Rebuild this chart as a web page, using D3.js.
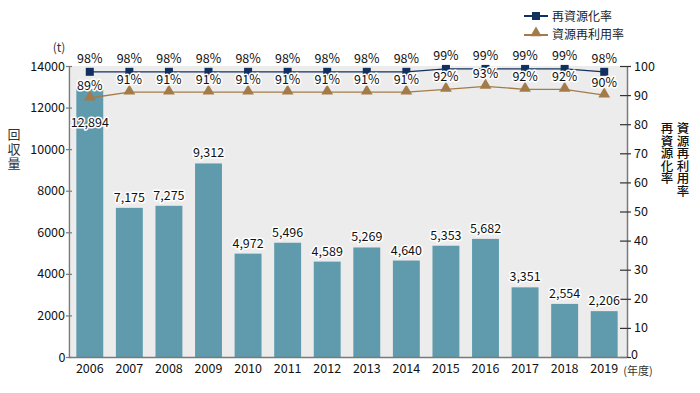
<!DOCTYPE html>
<html><head><meta charset="utf-8">
<script src="https://cdn.jsdelivr.net/npm/d3@7/dist/d3.min.js"></script>
<style>
body{margin:0;background:#fff;}
svg text{font-family:"Noto Sans CJK JP","Noto Sans",sans-serif;}
.vt{writing-mode:vertical-rl;text-orientation:upright;}
</style></head>
<body><svg id="c" width="700" height="393"></svg>
<script>
const years = ["2006","2007","2008","2009","2010","2011","2012","2013","2014","2015","2016","2017","2018","2019"];
const amounts = [12894,7175,7275,9312,4972,5496,4589,5269,4640,5353,5682,3351,2554,2206];
const recycleRate = [98,98,98,98,98,98,98,98,98,99,99,99,99,98];
const reuseRate = [89,91,91,91,91,91,91,91,91,92,93,92,92,90];
const leftTicks = [0,2000,4000,6000,8000,10000,12000,14000];
const rightTicks = [0,10,20,30,40,50,60,70,80,90,100];
const seriesNames = ["再資源化率","資源再利用率"];

const svg = d3.select("#c");
const plotTop = 66, plotBottom = 357, leftX = 69, rightX = 627;
const x = d3.scaleBand().domain(years).range([70, 624]).paddingInner(0.32).paddingOuter(0.16);
const yL = d3.scaleLinear().domain([0,14000]).range([plotBottom, plotTop]);
const yR = d3.scaleLinear().domain([0,100]).range([plotBottom, plotTop]);
const barColor = "#5f9bad", navy = "#12305f", brown = "#a37b48", axisCol = "#7a7a7a";

svg.append("rect").attr("x", 71).attr("y", plotTop).attr("width", rightX-71).attr("height", plotBottom-plotTop).attr("fill", "#ececec");

svg.selectAll(".bar").data(amounts).enter().append("rect")
  .attr("x", (d,i)=>x(years[i])).attr("width", x.bandwidth())
  .attr("y", d=>yL(d)).attr("height", d=>plotBottom-yL(d)).attr("fill", barColor);

// axes
const la = svg.append("g").attr("transform", `translate(${leftX},0)`)
  .call(d3.axisLeft(yL).tickValues(leftTicks).tickSize(0).tickFormat(d=>d===0?"":d));
la.select(".domain").attr("stroke", axisCol).attr("stroke-width", 1.5);
la.selectAll("text").attr("font-size", 12.5).attr("fill", "#111").attr("x", -4);
la.selectAll(".tick").append("line").attr("x1", -3).attr("x2", 3).attr("stroke", axisCol).attr("stroke-width", 1.2);
svg.append("text").attr("x", 62).attr("y", plotBottom+5).attr("text-anchor","middle").attr("font-size",12.5).attr("fill","#111").text("0");

const ra = svg.append("g").attr("transform", `translate(${rightX},0)`)
  .call(d3.axisRight(yR).tickValues(rightTicks).tickSize(0));
ra.select(".domain").attr("stroke", axisCol).attr("stroke-width", 1.5);
ra.selectAll("text").attr("font-size", 12.5).attr("fill", "#111").attr("x", 7);
ra.selectAll(".tick").append("line").attr("x1", -7).attr("x2", 4).attr("stroke", "#333").attr("stroke-width", 1.2);
ra.selectAll(".tick").filter(d=>d===0).select("text").attr("y", -3).attr("x",4);

svg.append("line").attr("x1", leftX).attr("x2", rightX).attr("y1", plotBottom+0.5).attr("y2", plotBottom+0.5).attr("stroke", axisCol).attr("stroke-width", 1.5);

svg.selectAll(".xl").data(years).enter().append("text")
  .attr("x", d=>x(d)+x.bandwidth()/2).attr("y", plotBottom+16).attr("text-anchor","middle")
  .attr("font-size", 12.5).attr("fill","#111").text(d=>d);
svg.append("text").attr("x", 638).attr("y", plotBottom+18).attr("text-anchor","middle").attr("font-size",11).attr("fill","#333").text("(年度)");
svg.append("text").attr("x", 59).attr("y", 52).attr("text-anchor","middle").attr("font-size",12).attr("fill","#333").text("(t)");

// axis titles (vertical)
function vtext(str, cx, y0, size, ls, col, weight){
  svg.append("text").attr("class","vt").attr("x", cx).attr("y", y0)
    .attr("font-size", size).attr("letter-spacing", ls).attr("fill", col).attr("font-weight", weight||400).text(str);
}
vtext("回収量", 14, 128, 13, 1.5, "#333");
vtext("再資源化率", 667, 122, 12.5, 0, "#111", 500);
vtext("資源再利用率", 683, 122, 12.5, 0, "#111", 500);

// bar labels
const fmt = d3.format(",");
svg.selectAll(".bl").data(amounts).enter().append("text")
  .attr("x", (d,i)=>x(years[i])+x.bandwidth()/2)
  .attr("y", (d,i)=> i===0 ? 127 : yL(d)-6)
  .attr("text-anchor","middle").attr("font-size", 12.5).attr("fill","#111")
  .attr("stroke","#fff").attr("stroke-width",3).attr("paint-order","stroke").attr("stroke-linejoin","round")
  .text(d=>fmt(d));

// lines
const cx = i => x(years[i]) + x.bandwidth()/2;
const line = d3.line().x((d,i)=>cx(i)).y(d=>yR(d));
svg.append("path").datum(reuseRate).attr("d", line).attr("fill","none").attr("stroke", brown).attr("stroke-width",1.3);
svg.append("path").datum(recycleRate).attr("d", line).attr("fill","none").attr("stroke", navy).attr("stroke-width",1.3);
const tri = d3.symbol().type(d3.symbolTriangle).size(60);
svg.selectAll(".tri").data(reuseRate).enter().append("path")
  .attr("d", tri).attr("transform",(d,i)=>`translate(${cx(i)},${yR(d)-1})`).attr("fill", brown);
svg.selectAll(".sq").data(recycleRate).enter().append("rect")
  .attr("x",(d,i)=>cx(i)-4).attr("y", d=>yR(d)-4).attr("width",8).attr("height",8).attr("fill", navy);

const lab = (data, dy) => svg.selectAll(null).data(data).enter().append("text")
  .attr("x",(d,i)=>cx(i)).attr("y", d=>yR(d)+dy).attr("text-anchor","middle").attr("font-size",12.5).attr("fill","#111")
  .attr("stroke","#fff").attr("stroke-width",3).attr("paint-order","stroke").attr("stroke-linejoin","round")
  .text(d=>d+"%");
lab(recycleRate, -9);
lab(reuseRate, -8);

// legend
const lg = svg.append("g");
lg.append("line").attr("x1",524).attr("x2",548).attr("y1",16).attr("y2",16).attr("stroke",navy).attr("stroke-width",2);
lg.append("rect").attr("x",532).attr("y",12).attr("width",8).attr("height",8).attr("fill",navy);
lg.append("text").attr("x",552).attr("y",20.5).attr("font-size",12).attr("fill","#222").text(seriesNames[0]);
lg.append("line").attr("x1",524).attr("x2",548).attr("y1",35).attr("y2",35).attr("stroke",brown).attr("stroke-width",2);
lg.append("path").attr("d", d3.symbol().type(d3.symbolTriangle).size(55)).attr("transform","translate(536,33)").attr("fill",brown);
lg.append("text").attr("x",552).attr("y",39).attr("font-size",12).attr("fill","#222").text(seriesNames[1]);
</script></body></html>
